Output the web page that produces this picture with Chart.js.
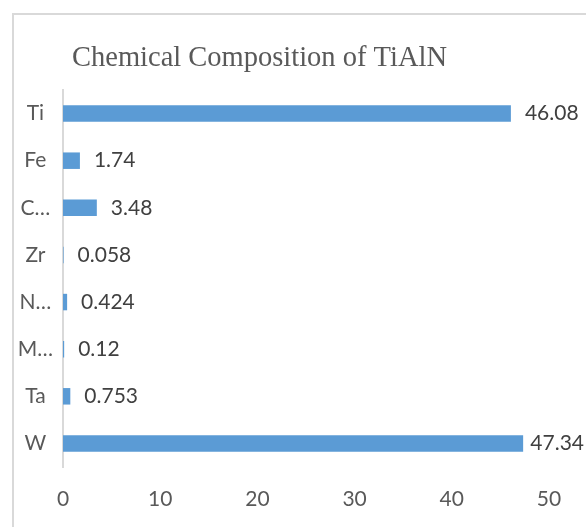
<!DOCTYPE html>
<html>
<head>
<meta charset="utf-8">
<script src="https://cdn.jsdelivr.net/npm/chart.js@4.4.0/dist/chart.umd.min.js"></script>
<style>
  html, body { margin: 0; padding: 0; background: #fff; overflow: hidden; }
  #wrap { width: 586px; height: 527px; }
</style>
</head>
<body>
<div id="wrap"><canvas id="chart" width="586" height="527"></canvas></div>
<script>
const chartTitle = 'Chemical Composition of TiAlN';
const elements = ['Ti', 'Fe', 'C…', 'Zr', 'N…', 'M…', 'Ta', 'W'];
const percent = [46.08, 1.74, 3.48, 0.058, 0.424, 0.12, 0.753, 47.34];
const xTicks = [0, 10, 20, 30, 40, 50];

const labelFont = { family: 'Lato', size: 21 };

// outer frame + serif title, drawn behind the chart
const frameAndTitle = {
    id: 'frameAndTitle',
    beforeDraw(chart) {
        const ctx = chart.ctx;
        ctx.save();
        ctx.fillStyle = '#ffffff';
        ctx.fillRect(0, 0, chart.width, chart.height);
        ctx.strokeStyle = '#d9d9d9';
        ctx.lineWidth = 2;
        ctx.beginPath();
        ctx.moveTo(13, chart.height);
        ctx.lineTo(13, 14);
        ctx.lineTo(chart.width, 14);
        ctx.stroke();
        ctx.font = '28.5px "Liberation Serif"';
        ctx.fillStyle = '#595959';
        ctx.textBaseline = 'alphabetic';
        ctx.fillText(chartTitle, 72, 66);
        ctx.restore();
    }
};

// value printed just past the end of each bar
const valueLabels = {
    id: 'valueLabels',
    afterDatasetsDraw(chart) {
        const ctx = chart.ctx;
        const meta = chart.getDatasetMeta(0);
        ctx.save();
        ctx.font = labelFont.size + 'px ' + labelFont.family;
        ctx.fillStyle = '#404040';
        ctx.textBaseline = 'middle';
        meta.data.forEach((bar, i) => {
            const text = String(percent[i]);
            const w = ctx.measureText(text).width;
            const x = Math.min(bar.x + 14, chart.width - w - 2);
            ctx.fillText(text, x, bar.y);
        });
        ctx.restore();
    }
};

const ctx = document.getElementById('chart').getContext('2d');
new Chart(ctx, {
    type: 'bar',
    data: {
        labels: elements,
        datasets: [{
            data: percent,
            backgroundColor: '#5b9bd5',
            borderWidth: 0,
            categoryPercentage: 1,
            barPercentage: 0.35
        }]
    },
    options: {
        indexAxis: 'y',
        responsive: false,
        animation: false,
        layout: { padding: { top: 90, right: 37, bottom: 0, left: 0 } },
        plugins: {
            legend: { display: false },
            title: { display: false },
            tooltip: { enabled: false }
        },
        scales: {
            x: {
                min: xTicks[0],
                max: xTicks[xTicks.length - 1],
                ticks: {
                    stepSize: xTicks[1] - xTicks[0],
                    color: '#595959',
                    font: labelFont,
                    padding: 20
                },
                grid: { display: false, drawTicks: false },
                border: { display: false },
                afterFit(scale) { scale.height = 60; }
            },
            y: {
                ticks: {
                    color: '#595959',
                    font: labelFont,
                    crossAlign: 'center',
                    padding: 10
                },
                grid: { display: false, drawTicks: false },
                border: { display: true, color: '#d9d9d9', width: 2 },
                afterFit(scale) { scale.width = 63; }
            }
        }
    },
    plugins: [frameAndTitle, valueLabels]
});
</script>
</body>
</html>
